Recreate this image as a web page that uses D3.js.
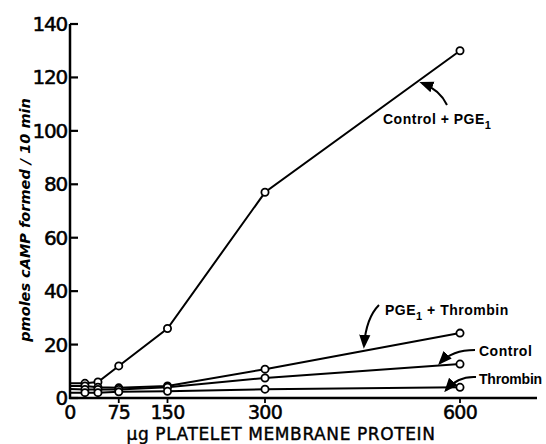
<!DOCTYPE html>
<html><head><meta charset="utf-8">
<script src="https://cdn.jsdelivr.net/npm/d3@7"></script>
<style>body{margin:0;background:#fff}svg{display:block}</style>
</head><body><svg id="c" width="546" height="444"></svg>
<script>
const xValues = [0, 23, 43, 75, 150, 300, 600];
const controlPGE1 = [5.5, 5.5, 6, 12, 26, 77, 130];
const pge1Thrombin = [4.5, 4.5, 4, 3.8, 4.5, 10.8, 24.3];
const control = [3.4, 3.2, 3.2, 3.2, 4.0, 7.5, 12.7];
const thrombin = [2.0, 2.0, 2.0, 2.3, 2.5, 3.3, 4.0];
const xTicks = [0, 75, 150, 300, 600];
const yTicks = [0, 20, 40, 60, 80, 100, 120, 140];
const series = [
  {name: "Control + PGE1", values: controlPGE1},
  {name: "PGE1 + Thrombin", values: pge1Thrombin},
  {name: "Control", values: control},
  {name: "Thrombin", values: thrombin}
];

const svg = d3.select("#c");
const x = d3.scaleLinear().domain([0, 600]).range([70, 460]);
const y = d3.scaleLinear().domain([0, 140]).range([398, 24]);
const font = "'DejaVu Sans', sans-serif";
const lfont = "'Liberation Sans', Arial, sans-serif";

// axes
svg.append("line").attr("x1", 70).attr("x2", 70).attr("y1", y(140)).attr("y2", y(0) + 1)
  .attr("stroke", "#000").attr("stroke-width", 2.5);
svg.append("line").attr("x1", 69).attr("x2", 537).attr("y1", y(0)).attr("y2", y(0))
  .attr("stroke", "#000").attr("stroke-width", 2.5);
svg.selectAll(".yt").data(yTicks).join("line")
  .attr("x1", 70).attr("x2", 78).attr("y1", d => y(d)).attr("y2", d => y(d))
  .attr("stroke", "#000").attr("stroke-width", 2.2);
svg.selectAll(".ytl").data(yTicks).join("text")
  .attr("x", 67).attr("y", d => y(d) + 7).attr("text-anchor", "end")
  .attr("font-family", font).attr("font-size", 20).attr("letter-spacing", -1.2)
  .attr("stroke", "#000").attr("stroke-width", 0.5).text(d => d);
svg.selectAll(".xt").data(xTicks.slice(1)).join("line")
  .attr("x1", d => x(d)).attr("x2", d => x(d)).attr("y1", y(0)).attr("y2", y(0) + 5)
  .attr("stroke", "#000").attr("stroke-width", 1.8);
svg.selectAll(".xtl").data(xTicks).join("text")
  .attr("x", d => x(d)).attr("y", 419).attr("text-anchor", "middle")
  .attr("font-family", font).attr("font-size", 19).attr("letter-spacing", -0.8)
  .attr("stroke", "#000").attr("stroke-width", 0.5).text(d => d);

// axis titles
svg.append("text").attr("transform", "translate(30,220) rotate(-90)")
  .attr("text-anchor", "middle").attr("font-family", font).attr("font-size", 14.5)
  .attr("font-style", "italic").attr("font-weight", "bold")
  .text("pmoles cAMP formed / 10 min");
svg.append("text").attr("x", 281).attr("y", 440).attr("text-anchor", "middle")
  .attr("font-family", font).attr("font-size", 17).attr("letter-spacing", 0.6)
  .attr("stroke", "#000").attr("stroke-width", 0.4)
  .text("μg PLATELET MEMBRANE PROTEIN");

// series lines and points
const line = d3.line().x((d, i) => x(xValues[i])).y(d => y(d));
series.forEach(s => {
  svg.append("path").attr("d", line(s.values)).attr("fill", "none")
    .attr("stroke", "#000").attr("stroke-width", 2);
  svg.selectAll(null).data(s.values.slice(1)).join("circle")
    .attr("cx", (d, i) => x(xValues[i + 1])).attr("cy", d => y(d)).attr("r", 3.6)
    .attr("fill", "#fff").attr("stroke", "#000").attr("stroke-width", 1.8);
});

// annotations
function label(tx, ty, main, sub, rest, ls) {
  const t = svg.append("text").attr("x", tx).attr("y", ty)
    .attr("font-family", lfont).attr("font-size", 14).attr("font-weight", "bold")
    .attr("letter-spacing", ls == null ? 0.5 : ls);
  t.append("tspan").text(main);
  if (sub) {
    t.append("tspan").attr("dy", 5).attr("font-size", 11).text(sub);
    t.append("tspan").attr("dy", -5).text(rest);
  }
}
label(383, 124, "Control + PGE", "1", "");
label(385, 315, "PGE", "1", " + Thrombin");
label(479, 356, "Control");
label(479, 384, "Thrombin", null, null, -0.2);

svg.append("defs").append("marker").attr("id", "ah").attr("viewBox", "0 0 10 10")
  .attr("refX", 8).attr("refY", 5).attr("markerWidth", 7).attr("markerHeight", 7)
  .attr("orient", "auto").append("path").attr("d", "M0,1 L10,5 L0,9 Z").attr("fill", "#000");
const arrows = [
  "M447,105 Q440,90 422,83",
  "M379,305 Q366,318 364,346",
  "M475,350 Q452,350 440,363",
  "M476,377 Q458,376 446,390"
];
arrows.forEach(d => svg.append("path").attr("d", d).attr("fill", "none")
  .attr("stroke", "#000").attr("stroke-width", 2).attr("marker-end", "url(#ah)"));
</script></body></html>
